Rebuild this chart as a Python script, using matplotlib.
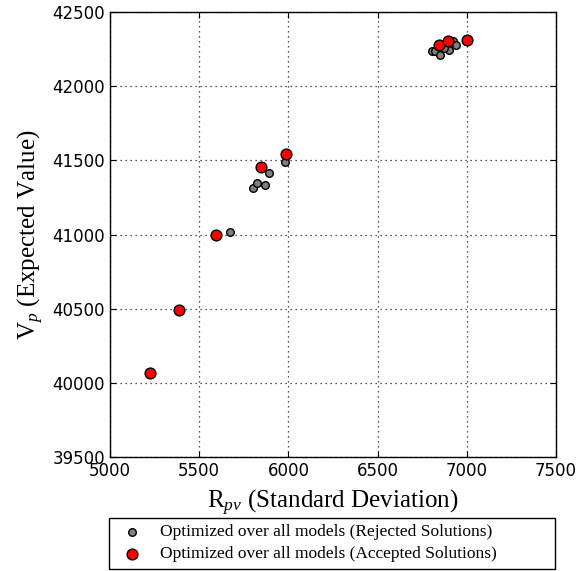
import matplotlib
matplotlib.use("Agg")
import matplotlib.pyplot as plt

# Optimized solutions over all models: (standard deviation, expected value)
rejected_std = [5670, 5800, 5822, 5871, 5893, 5980,
                6804, 6819, 6851, 6898, 6922, 6937, 6870]
rejected_val = [41019, 41311, 41349, 41334, 41416, 41487,
                42235, 42239, 42210, 42244, 42306, 42280, 42260]

accepted_std = [5225, 5385, 5595, 5845, 5985, 6842, 6892, 7000]
accepted_val = [40068, 40492, 40995, 41455, 41545, 42280, 42306, 42313]

x_ticks = [5000, 5500, 6000, 6500, 7000, 7500]
y_ticks = [39500, 40000, 40500, 41000, 41500, 42000, 42500]

plt.rcParams['mathtext.fontset'] = 'custom'
plt.rcParams['mathtext.rm'] = 'Liberation Serif'
plt.rcParams['mathtext.it'] = 'Liberation Serif:italic'

W, H = 577, 571
fig = plt.figure(figsize=(W / 100, H / 100), dpi=100)
ax = fig.add_axes([110 / W, 1 - 457 / H, 446 / W, 445 / H])

ax.scatter(rejected_std, rejected_val, s=30, c='#7f7f7f', edgecolors='black',
           linewidths=1.0, zorder=3,
           label='Optimized over all models (Rejected Solutions)')
ax.scatter(accepted_std, accepted_val, s=60, c='red', edgecolors='black',
           linewidths=1.0, zorder=4,
           label='Optimized over all models (Accepted Solutions)')

ax.set_xlim(5000, 7500)
ax.set_ylim(39500, 42500)
ax.set_xticks(x_ticks)
ax.set_yticks(y_ticks)
ax.tick_params(direction='in', top=True, right=True, labelsize=12, length=4)
ax.grid(True, linestyle=(0, (1, 3)), color='#222222', linewidth=0.9)
for sp in ax.spines.values():
    sp.set_linewidth(1.0)

ax.set_xlabel(r'R$_{pv}$ (Standard Deviation)', family='Liberation Serif',
              fontsize=18, labelpad=6)
ax.set_ylabel(r'V$_p$ (Expected Value)', family='Liberation Serif',
              fontsize=18, labelpad=5)

fig.legend(*ax.get_legend_handles_labels(), loc='upper left',
           bbox_to_anchor=(109 / W, 1 - 518 / H, 446 / W, 0.0),
           mode='expand', borderaxespad=0, ncol=1,
           fancybox=False, edgecolor='black', framealpha=1,
           prop={'family': 'Liberation Serif', 'size': 12.5},
           borderpad=0.35, labelspacing=0.35, handletextpad=0.7,
           handlelength=1.9)

fig.savefig('out.png', dpi=100)
